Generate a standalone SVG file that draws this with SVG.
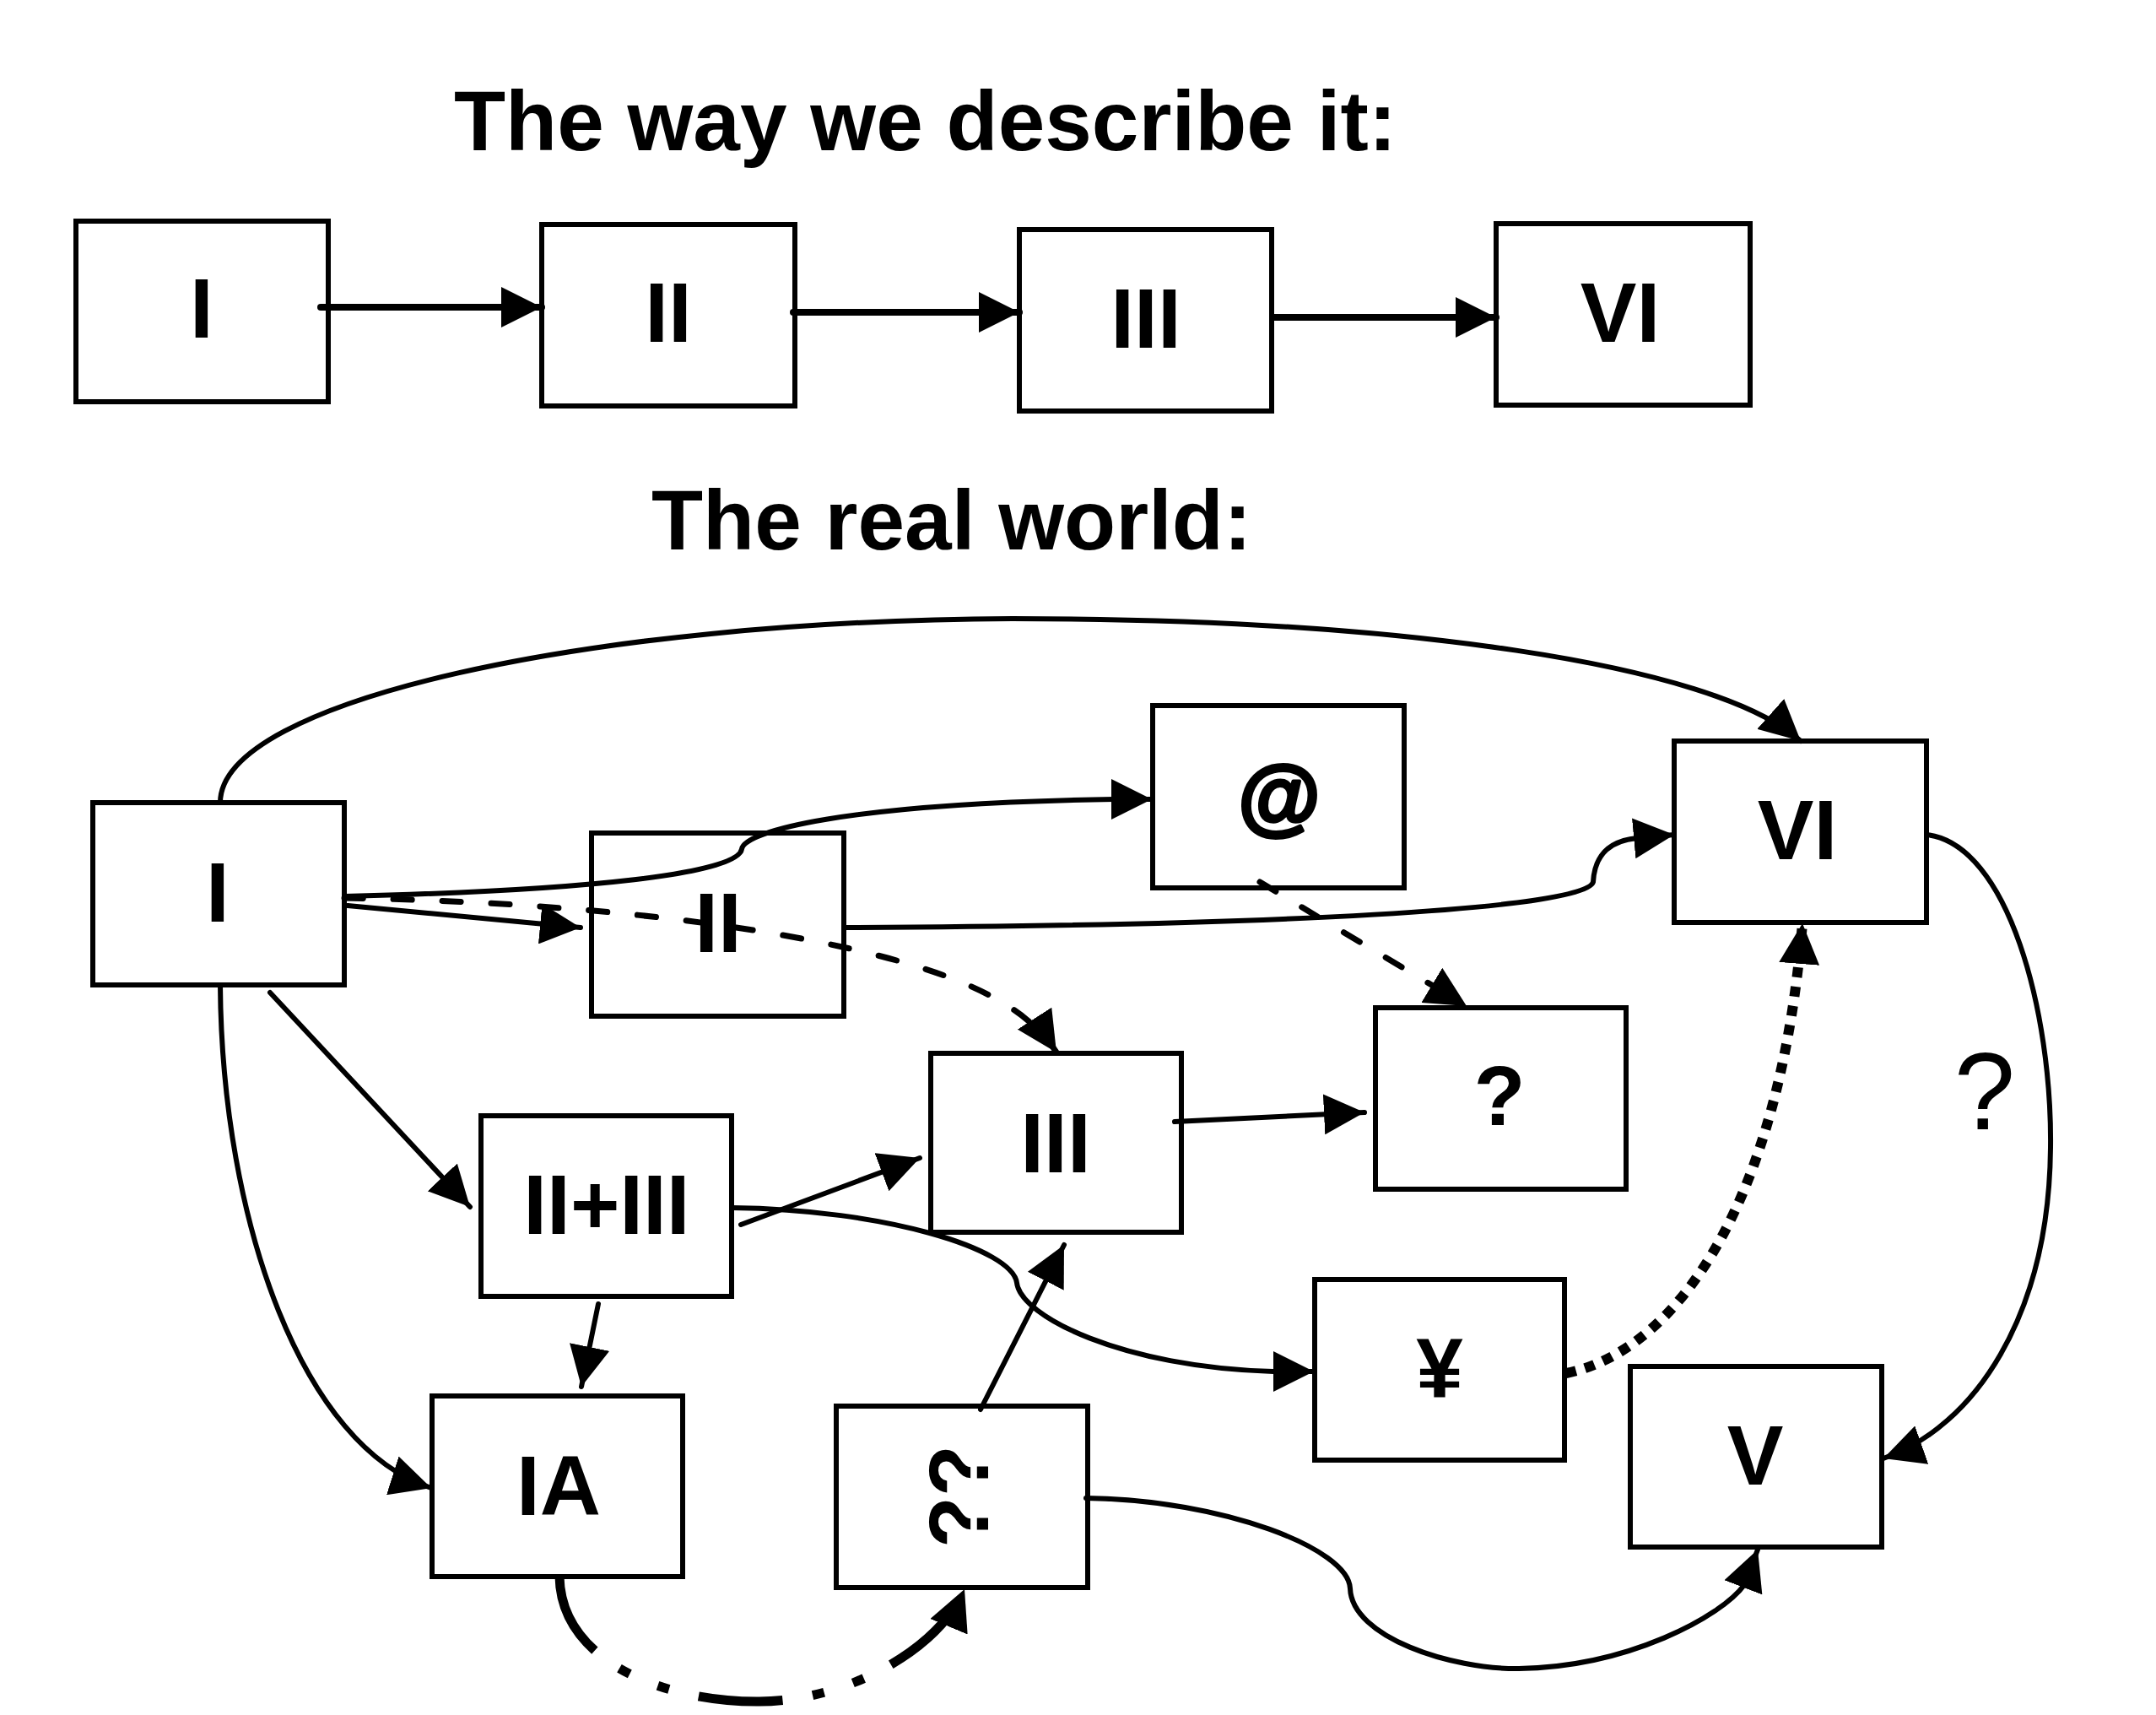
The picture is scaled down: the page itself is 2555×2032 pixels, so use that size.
<svg xmlns="http://www.w3.org/2000/svg" width="2555" height="2032" viewBox="0 0 2555 2032">
<defs>
<marker id="ah" markerUnits="userSpaceOnUse" markerWidth="48" markerHeight="48" refX="48" refY="24" orient="auto" viewBox="0 0 48 48"><path d="M0,0 L48,24 L0,48 z" fill="#000"/></marker>
</defs>
<style>
.box{fill:#fff;stroke:#000;stroke-width:6}
.lbl{font-family:"Liberation Sans",Arial,sans-serif;font-weight:bold;font-size:100px;text-anchor:middle;fill:#000}
.heavy{stroke:#000;stroke-width:4;stroke-linejoin:round}
.title{font-family:"Liberation Sans",Arial,sans-serif;font-weight:bold;font-size:100px;fill:#000}
.q{font-family:"Liberation Sans",Arial,sans-serif;font-weight:normal;font-size:130px;text-anchor:middle;fill:#000}
.c{fill:none;stroke:#000;stroke-width:6;stroke-linecap:round;stroke-linejoin:round}
.top{stroke-width:8}
.dash{stroke-width:7;stroke-dasharray:22 36}
.dot{stroke-width:12;stroke-dasharray:12 11;stroke-linecap:butt}
.dashdot{stroke-width:11;stroke-dasharray:100 36 14 36 14 36;stroke-linecap:butt}
</style>
<rect width="2555" height="2032" fill="#fff"/>
<text class="title" x="538" y="178">The way we describe it:</text>
<text class="title" x="772" y="651">The real world:</text>

<g id="top-I"><rect class="box" x="90" y="262" width="299" height="214"/><text class="lbl" x="239" y="400">I</text></g>
<g id="top-II"><rect class="box" x="642" y="266" width="300" height="215"/><text class="lbl" x="792" y="405">II</text></g>
<g id="top-III"><rect class="box" x="1208" y="272" width="299" height="215"/><text class="lbl" x="1358" y="412">III</text></g>
<g id="top-VI"><rect class="box" x="1773" y="265" width="301" height="215"/><text class="lbl" x="1920" y="405">VI</text></g>

<g id="n-I"><rect class="box" x="110" y="951" width="298" height="216"/><text class="lbl" x="258" y="1092">I</text></g>
<g id="n-II"><rect class="box" x="701" y="987" width="299" height="217"/><text class="lbl" x="851" y="1128">II</text></g>
<g id="n-at"><rect class="box" x="1366" y="836" width="298" height="216"/><text class="lbl heavy" x="1516" y="977">@</text></g>
<g id="n-VI"><rect class="box" x="1984" y="878" width="299" height="215"/><text class="lbl" x="2130" y="1018">VI</text></g>
<g id="n-IIplusIII"><rect class="box" x="570" y="1322" width="297" height="214"/><text class="lbl" x="719" y="1462">II+III</text></g>
<g id="n-III"><rect class="box" x="1103" y="1248" width="297" height="212"/><text class="lbl" x="1251" y="1389">III</text></g>
<g id="n-q"><rect class="box" x="1630" y="1194" width="297" height="215"/><text class="lbl" x="1777" y="1333">?</text></g>
<g id="n-yen"><rect class="box" x="1558" y="1516" width="296" height="214"/><text class="lbl" x="1706" y="1656">¥</text></g>
<g id="n-V"><rect class="box" x="1932" y="1619" width="298" height="214"/><text class="lbl" x="2080" y="1759">V</text></g>
<g id="n-IA"><rect class="box" x="512" y="1654" width="297" height="214"/><text class="lbl" x="662" y="1795">IA</text></g>
<g id="n-qq"><rect class="box" x="991" y="1666" width="298" height="215"/><text class="lbl" transform="translate(1171,1773) rotate(-90)" x="0" y="0">??</text></g>

<g id="connectors">
<path class="c top" d="M380,364 L642,364" marker-end="url(#ah)"/>
<path class="c top" d="M940,370 L1208,370" marker-end="url(#ah)"/>
<path class="c top" d="M1509,376 L1773,376" marker-end="url(#ah)"/>

<path class="c" d="M261,951 C261,830 700,735 1200,733 C1650,733 2030,785 2134,878" marker-end="url(#ah)"/>
<path class="c" d="M408,1062 C700,1055 875,1035 879,1006 C882,985 1000,952 1320,947 L1365,947" marker-end="url(#ah)"/>
<path class="c" d="M412,1073 L688,1099" marker-end="url(#ah)"/>
<path class="c dash" d="M408,1064 C750,1070 1000,1110 1130,1160 C1180,1180 1225,1205 1252,1247" marker-end="url(#ah)"/>
<path class="c" d="M1000,1099 C1500,1097 1880,1078 1888,1045 C1890,1010 1910,996 1940,993 L1984,989" marker-end="url(#ah)"/>
<path class="c dash" d="M1493,1045 L1738,1192" marker-end="url(#ah)"/>
<path class="c" d="M320,1176 L557,1430" marker-end="url(#ah)"/>
<path class="c" d="M261,1167 C263,1450 360,1715 511,1763" marker-end="url(#ah)"/>
<path class="c" d="M878,1451 L1090,1372" marker-end="url(#ah)"/>
<path class="c" d="M867,1431 C1050,1433 1200,1480 1205,1520 C1210,1560 1330,1620 1509,1625 L1557,1625" marker-end="url(#ah)"/>
<path class="c" d="M709,1545 L689,1643" marker-end="url(#ah)"/>
<path class="c" d="M1392,1329 L1617,1318" marker-end="url(#ah)"/>
<path class="c" d="M1162,1670 L1261,1475" marker-end="url(#ah)"/>
<path class="c dot" d="M1856,1627 C1990,1600 2110,1420 2136,1094" marker-end="url(#ah)"/>
<path class="c" d="M2283,989 C2380,1000 2432,1200 2430,1360 C2428,1560 2340,1690 2232,1728" marker-end="url(#ah)"/>
<path class="c" d="M1287,1775 C1450,1777 1598,1835 1600,1882 C1602,1940 1720,1978 1800,1977 C1930,1975 2040,1915 2067,1878 L2083,1836" marker-end="url(#ah)"/>
<path class="c dashdot" d="M663,1868 C665,1970 790,2017 900,2016 C1010,2015 1115,1950 1143,1883" marker-end="url(#ah)"/>
<text class="q" x="2352" y="1338">?</text>
</g>
</svg>
